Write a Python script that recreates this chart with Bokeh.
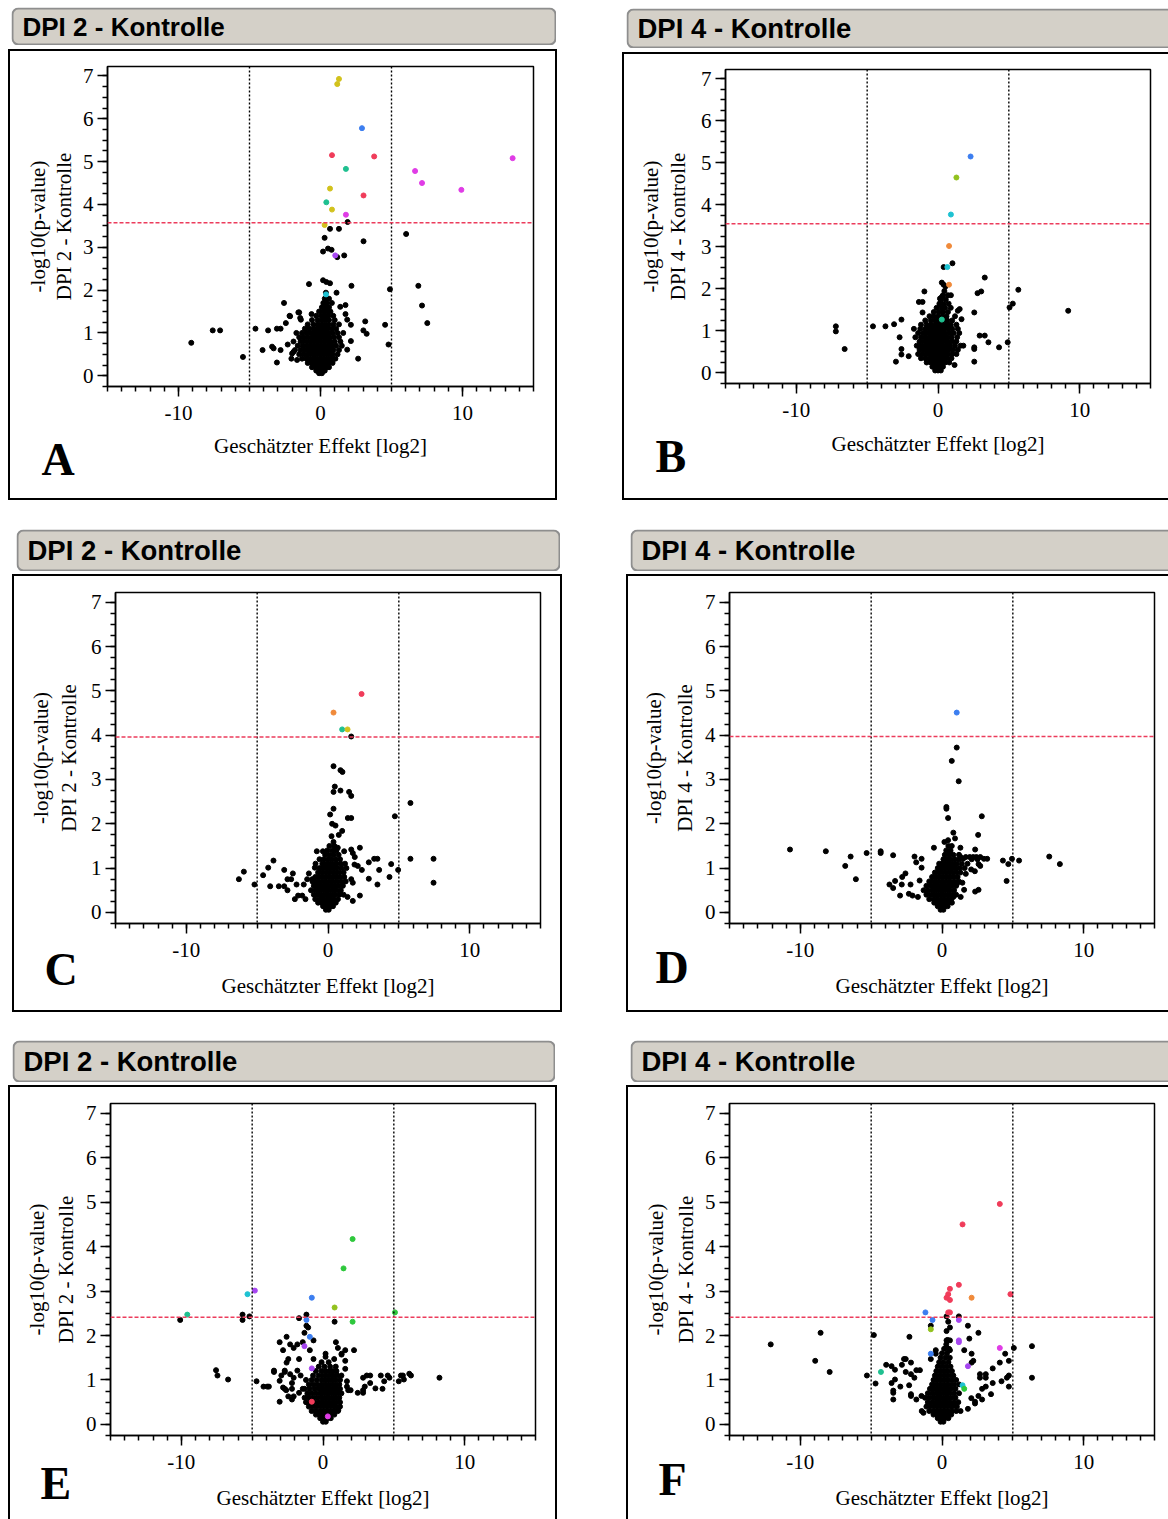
import math
from bokeh.plotting import figure
from bokeh.models import (Span, BoxAnnotation, SingleIntervalTicker, Range1d, Spacer,
                          PrintfTickFormatter)
from bokeh.layouts import column, row
from bokeh.core.properties import value
from bokeh.embed import file_html
from bokeh.resources import INLINE

# ---------------- DATA ----------------
PANEL_KEYS = ["A", "B", "C", "D", "E", "F"]
PANEL_TITLES = {"A": "DPI 2 - Kontrolle", "B": "DPI 4 - Kontrolle", "C": "DPI 2 - Kontrolle",
                "D": "DPI 4 - Kontrolle", "E": "DPI 2 - Kontrolle", "F": "DPI 4 - Kontrolle"}
THRESH = {"A": 3.57, "B": 3.55, "C": 3.96, "D": 3.97, "E": 2.41, "F": 2.41}
FC_LIMIT = [-5, 5]
X_LABEL = "Geschätzter Effekt [log2]"
Y_LABEL_TOP = "-log10(p-value)"

# dense central clouds: (y, [x values]) read row by row
A_CORE = [(0.06, [-0.1, 0.1]), (0.12, [-0.3, -0.1, 0.1, 0.3]),
          (0.2, [-0.6, -0.35, -0.1, 0.15, 0.4, 0.6]),
          (0.3, [-0.9, -0.65, -0.4, -0.15, 0.1, 0.35, 0.6, 0.85]),
          (0.4, [-1.3, -1.0, -0.75, -0.5, -0.25, 0.0, 0.25, 0.5, 0.75, 1.05]),
          (0.5, [-1.5, -1.2, -0.9, -0.65, -0.4, -0.15, 0.1, 0.35, 0.6, 0.85, 1.2]),
          (0.6, [-1.8, -1.4, -1.1, -0.85, -0.6, -0.35, -0.1, 0.15, 0.4, 0.65, 0.9, 1.3]),
          (0.7, [-1.6, -1.25, -0.95, -0.7, -0.45, -0.2, 0.05, 0.3, 0.55, 0.8, 1.1, 1.5]),
          (0.8, [-1.9, -1.4, -1.1, -0.8, -0.55, -0.3, -0.05, 0.2, 0.45, 0.7, 1.0, 1.4]),
          (0.9, [-1.5, -1.2, -0.9, -0.6, -0.35, -0.1, 0.15, 0.4, 0.65, 0.95, 1.3]),
          (1.0, [-1.7, -1.3, -1.0, -0.7, -0.45, -0.2, 0.05, 0.3, 0.55, 0.85, 1.2, 1.6]),
          (1.1, [-1.1, -0.8, -0.5, -0.25, 0.0, 0.25, 0.5, 0.8, 1.1]),
          (1.2, [-0.9, -0.5, -0.2, 0.05, 0.3, 0.55, 0.9, 1.3]),
          (1.3, [-0.6, -0.2, 0.1, 0.35, 0.6, 1.0]), (1.4, [-0.3, 0.05, 0.3, 0.55, 0.9]),
          (1.5, [-0.1, 0.2, 0.45, 0.7]), (1.6, [0.1, 0.35, 0.6]), (1.7, [0.2, 0.45, 0.8]),
          (1.8, [0.3, 0.6])]
B_CORE = [(0.06, [-0.2, 0.0, 0.2]), (0.15, [-0.4, -0.15, 0.1, 0.35]),
          (0.25, [-0.8, -0.5, -0.25, 0.0, 0.25, 0.5, 0.8]),
          (0.35, [-1.2, -0.9, -0.6, -0.35, -0.1, 0.15, 0.4, 0.65, 0.95]),
          (0.45, [-1.4, -1.1, -0.8, -0.55, -0.3, -0.05, 0.2, 0.45, 0.7, 1.0, 1.3]),
          (0.55, [-1.3, -1.0, -0.75, -0.5, -0.25, 0.0, 0.25, 0.5, 0.75, 1.05, 1.4]),
          (0.65, [-1.5, -1.2, -0.9, -0.65, -0.4, -0.15, 0.1, 0.35, 0.6, 0.85, 1.2, 1.6]),
          (0.75, [-1.3, -1.0, -0.75, -0.5, -0.25, 0.0, 0.25, 0.5, 0.75, 1.0, 1.3]),
          (0.85, [-1.6, -1.2, -0.9, -0.6, -0.35, -0.1, 0.15, 0.4, 0.65, 0.95, 1.35]),
          (0.95, [-1.4, -1.05, -0.75, -0.5, -0.25, 0.0, 0.25, 0.5, 0.8, 1.1, 1.5]),
          (1.05, [-1.7, -1.25, -0.9, -0.6, -0.35, -0.1, 0.15, 0.4, 0.7, 1.0, 1.4]),
          (1.15, [-1.2, -0.8, -0.5, -0.2, 0.05, 0.3, 0.6, 0.9, 1.3]),
          (1.25, [-0.9, -0.5, -0.2, 0.1, 0.35, 0.65, 1.0]),
          (1.35, [-0.6, -0.3, 0.0, 0.3, 0.6, 1.2]), (1.45, [-0.3, 0.05, 0.35, 0.7]),
          (1.55, [-0.1, 0.25, 0.5, 0.9]), (1.65, [0.1, 0.4, 0.75]), (1.75, [0.2, 0.55]),
          (1.85, [0.35, 0.7]), (1.95, [0.45])]
C_CORE = [(0.06, [-0.15, 0.05]), (0.14, [-0.35, -0.1, 0.15, 0.35]),
          (0.22, [-0.7, -0.45, -0.2, 0.05, 0.3, 0.55]),
          (0.3, [-0.9, -0.6, -0.35, -0.1, 0.15, 0.4, 0.7]),
          (0.4, [-1.0, -0.75, -0.5, -0.25, 0.0, 0.25, 0.5, 0.8, 1.1]),
          (0.5, [-1.2, -0.9, -0.65, -0.4, -0.15, 0.1, 0.35, 0.6, 0.9]),
          (0.6, [-1.0, -0.75, -0.5, -0.25, 0.0, 0.25, 0.5, 0.75, 1.05]),
          (0.7, [-1.1, -0.85, -0.6, -0.35, -0.1, 0.15, 0.4, 0.65, 0.95, 1.25]),
          (0.8, [-0.9, -0.65, -0.4, -0.15, 0.1, 0.35, 0.6, 0.85, 1.15]),
          (0.9, [-0.7, -0.45, -0.2, 0.05, 0.3, 0.55, 0.8, 1.1]),
          (1.0, [-0.6, -0.35, -0.1, 0.15, 0.4, 0.65, 0.95, 1.3]),
          (1.1, [-0.4, -0.15, 0.1, 0.35, 0.6, 0.9, 1.2]),
          (1.2, [-0.6, -0.3, 0.0, 0.25, 0.55, 0.85]), (1.3, [-0.2, 0.1, 0.4, 0.75]),
          (1.4, [-0.05, 0.3, 0.6]), (1.5, [0.1, 0.45])]
D_CORE = [(0.06, [-0.1, 0.1]), (0.14, [-0.3, -0.05, 0.2, 0.4]),
          (0.22, [-0.55, -0.3, -0.05, 0.2, 0.45, 0.7]),
          (0.3, [-0.9, -0.6, -0.35, -0.1, 0.15, 0.4, 0.65]),
          (0.4, [-1.1, -0.8, -0.55, -0.3, -0.05, 0.2, 0.45, 0.7, 1.0]),
          (0.5, [-1.3, -1.0, -0.7, -0.45, -0.2, 0.05, 0.3, 0.55, 0.85]),
          (0.6, [-1.1, -0.8, -0.55, -0.3, -0.05, 0.2, 0.45, 0.7, 1.0]),
          (0.7, [-0.9, -0.65, -0.4, -0.15, 0.1, 0.35, 0.6, 0.9, 1.2]),
          (0.8, [-0.7, -0.45, -0.2, 0.05, 0.3, 0.55, 0.8, 1.1]),
          (0.9, [-0.5, -0.25, 0.0, 0.25, 0.5, 0.75, 1.0, 1.3]),
          (1.0, [-0.3, -0.05, 0.2, 0.45, 0.7, 0.95, 1.25, 1.6]),
          (1.1, [-0.2, 0.05, 0.3, 0.55, 0.8, 1.05, 1.4, 1.8]),
          (1.2, [0.1, 0.35, 0.6, 0.9, 1.2, 2.1, 2.5]), (1.3, [0.2, 0.5, 0.8, 1.2]),
          (1.4, [0.3, 0.6]), (1.5, [0.45])]
E_CORE = [(0.06, [0.0, 0.2]), (0.14, [-0.2, 0.05, 0.3, 0.55]),
          (0.22, [-0.5, -0.25, 0.0, 0.25, 0.5, 0.8]),
          (0.3, [-0.8, -0.5, -0.2, 0.05, 0.3, 0.55, 0.8, 1.05]),
          (0.4, [-1.0, -0.7, -0.4, -0.1, 0.15, 0.4, 0.65, 0.9, 1.2]),
          (0.5, [-1.2, -0.9, -0.6, -0.3, -0.05, 0.2, 0.45, 0.7, 0.95, 1.2]),
          (0.6, [-1.3, -1.0, -0.7, -0.4, -0.1, 0.15, 0.4, 0.65, 0.9, 1.15]),
          (0.7, [-1.1, -0.8, -0.5, -0.2, 0.05, 0.3, 0.55, 0.8, 1.05, 1.3]),
          (0.8, [-1.3, -0.95, -0.6, -0.3, -0.05, 0.2, 0.45, 0.7, 0.95, 1.2]),
          (0.9, [-1.0, -0.7, -0.4, -0.1, 0.15, 0.4, 0.65, 0.9, 1.15]),
          (1.0, [-1.2, -0.8, -0.45, -0.1, 0.15, 0.4, 0.65, 0.9, 1.2]),
          (1.1, [-0.7, -0.3, 0.0, 0.25, 0.5, 0.75, 1.0, 1.3]),
          (1.2, [-0.5, -0.1, 0.2, 0.45, 0.7, 0.95]), (1.3, [-0.3, 0.1, 0.5, 0.9]),
          (1.4, [-0.1, 0.4])]
F_CORE = [(0.06, [-0.1, 0.1]), (0.14, [-0.3, -0.05, 0.2, 0.45]),
          (0.22, [-0.6, -0.35, -0.1, 0.15, 0.4, 0.65]),
          (0.3, [-0.9, -0.6, -0.35, -0.1, 0.15, 0.4, 0.7, 1.0]),
          (0.4, [-1.1, -0.8, -0.5, -0.25, 0.0, 0.25, 0.5, 0.75, 1.05]),
          (0.5, [-1.0, -0.7, -0.45, -0.2, 0.05, 0.3, 0.55, 0.85, 1.15]),
          (0.6, [-1.2, -0.9, -0.6, -0.35, -0.1, 0.15, 0.4, 0.65, 0.95]),
          (0.7, [-1.0, -0.7, -0.45, -0.2, 0.05, 0.3, 0.55, 0.85, 1.2]),
          (0.8, [-0.85, -0.6, -0.35, -0.1, 0.15, 0.4, 0.65, 0.95]),
          (0.9, [-0.7, -0.45, -0.2, 0.05, 0.3, 0.55, 0.85, 1.2]),
          (1.0, [-0.6, -0.35, -0.1, 0.15, 0.4, 0.7, 1.0]),
          (1.1, [-0.5, -0.25, 0.0, 0.25, 0.5, 0.8]), (1.2, [-0.4, -0.1, 0.15, 0.4, 0.7]),
          (1.3, [-0.3, 0.0, 0.3, 0.6]), (1.4, [-0.2, 0.1, 0.45]), (1.5, [-0.1, 0.25, 0.55]),
          (1.6, [0.0, 0.35]), (1.7, [0.15, 0.5]), (1.8, [0.3]), (1.9, [0.4])]

# scattered black points (x, y)
A_OUT = [(-9.1, 0.77), (-7.59, 1.06), (-7.07, 1.06), (-5.46, 0.44), (-4.58, 1.10), (-4.08, 0.60),
         (-3.69, 1.06), (-3.07, 1.10), (-2.81, 1.10), (-3.41, 0.68), (-3.30, 0.64), (-3.07, 0.31),
         (-2.81, 0.60), (-2.57, 1.70), (-2.44, 1.23), (-2.18, 1.40), (-2.31, 0.73), (-2.05, 0.40),
         (-1.56, 1.48), (-1.43, 1.35), (-0.81, 2.14), (4.89, 2.02), (4.79, 0.73), (4.55, 1.19),
         (3.15, 1.27), (3.25, 0.98), (3.02, 1.06), (2.65, 0.40), (2.18, 2.10), (6.89, 2.10),
         (7.15, 1.64), (7.52, 1.23), (1.91, 3.59), (0.67, 3.43), (1.30, 3.43), (6.03, 3.31),
         (0.29, 3.22), (3.03, 3.14), (0.53, 2.97), (0.18, 2.90), (0.78, 2.94), (1.18, 2.77),
         (1.67, 2.81), (0.18, 2.23), (0.41, 2.19), (0.67, 2.16), (-0.63, 1.44), (1.76, 1.65),
         (1.39, 1.61), (1.76, 1.44), (1.88, 1.31), (2.14, 1.19), (2.14, 0.81), (1.88, 0.61),
         (0.38, 1.94), (1.13, 1.94), (-2.0, 0.52), (-1.9, 0.56), (-1.65, 0.37), (-1.5, 1.48),
         (-1.38, 1.31), (-2.14, 1.39)]
B_OUT = [(0.40, 2.52), (1.02, 2.61), (3.30, 2.27), (3.05, 1.94), (2.79, 1.90), (5.67, 1.98),
         (5.28, 1.65), (5.05, 1.56), (9.19, 1.48), (2.56, 1.44), (2.94, 0.89), (3.30, 0.89),
         (3.56, 0.73), (4.31, 0.61), (4.92, 0.73), (2.56, 0.61), (2.56, 0.57), (2.56, 0.27),
         (1.79, 0.65), (1.17, 0.19), (-7.21, 1.11), (-7.21, 0.99), (-6.59, 0.57), (-4.59, 1.11),
         (-3.71, 1.11), (-3.10, 1.16), (-2.58, 1.27), (-2.71, 0.85), (-2.58, 0.57), (-2.58, 0.44),
         (-2.97, 0.27), (-2.07, 0.40), (-0.96, 1.94), (-1.35, 1.69), (-1.09, 1.69), (-1.09, 1.44),
         (0.40, 2.10), (0.53, 2.06), (0.14, 1.77), (0.27, 1.81), (0.91, 1.85), (1.40, 1.48),
         (1.53, 1.52), (1.66, 1.28), (0.27, 2.15)]
C_OUT = [(1.64, 3.97), (0.39, 3.30), (0.88, 3.21), (1.02, 3.17), (0.48, 2.84), (0.39, 2.72),
         (0.88, 2.75), (1.49, 2.72), (1.64, 2.63), (0.39, 2.34), (0.15, 2.21), (1.40, 2.13),
         (1.64, 2.13), (0.29, 2.0), (0.53, 1.96), (1.0, 1.84), (0.76, 1.75), (0.25, 1.72),
         (0.39, 1.59), (0.53, 1.46), (0.69, 1.46), (1.14, 1.38), (1.64, 1.42), (2.25, 1.46),
         (1.75, 1.34), (1.89, 1.25), (-0.79, 1.38), (-0.36, 1.38), (5.82, 2.47), (4.72, 2.17),
         (5.82, 1.21), (7.45, 1.21), (7.45, 0.67), (4.95, 0.96), (4.46, 1.09), (4.34, 0.80),
         (3.49, 0.63), (2.88, 0.76), (3.61, 0.96), (3.49, 1.21), (3.26, 1.21), (2.88, 1.13),
         (2.39, 0.96), (2.1, 1.05), (1.87, 1.08), (1.75, 0.67), (1.64, 0.75), (2.25, 0.38),
         (1.75, 0.26), (1.38, 0.35), (-6.29, 0.75), (-5.94, 0.92), (-5.19, 0.63), (-4.58, 0.84),
         (-4.22, 1.01), (-3.85, 1.17), (-4.08, 0.59), (-3.47, 0.59), (-3.09, 0.96), (-2.86, 0.75),
         (-2.6, 0.75), (-2.48, 0.88), (-2.22, 0.63), (-3.09, 0.59), (-2.86, 0.50), (-2.34, 0.30),
         (-2.11, 0.38), (-1.82, 0.38), (-1.59, 0.30), (-1.35, 0.88), (-1.47, 0.75), (-1.71, 0.63),
         (-1.12, 0.75), (-0.93, 1.01), (-0.88, 1.10)]
D_OUT = [(1.04, 3.72), (0.69, 3.42), (1.18, 2.96), (0.31, 2.38), (0.31, 2.34), (0.43, 2.13),
         (2.81, 2.17), (0.80, 1.80), (2.55, 1.75), (0.92, 1.67), (0.17, 1.59), (0.43, 1.63),
         (0.69, 1.50), (1.30, 1.46), (-0.57, 1.46), (2.34, 1.42), (-10.73, 1.42), (-8.20, 1.38),
         (-6.45, 1.26), (-6.83, 1.05), (-6.08, 0.75), (-5.32, 1.34), (-4.33, 1.38), (-4.33, 1.34),
         (-3.45, 1.29), (-1.94, 1.26), (-1.44, 1.21), (-1.82, 1.13), (-1.44, 1.01), (-2.58, 0.88),
         (-2.81, 0.80), (-3.31, 0.71), (-3.71, 0.63), (-3.45, 0.55), (-2.84, 0.63), (-2.22, 0.63),
         (-2.96, 0.38), (-2.34, 0.42), (-2.08, 0.38), (-1.70, 0.35), (-1.58, 0.72), (4.30, 1.17),
         (4.68, 1.09), (4.94, 1.21), (5.44, 1.17), (4.56, 0.71), (7.57, 1.26), (8.32, 1.09),
         (3.19, 1.21), (2.96, 1.21), (2.7, 1.25), (2.43, 1.25), (2.2, 1.25), (1.96, 1.25),
         (1.68, 1.25), (1.49, 1.21), (1.32, 1.25), (2.58, 1.09), (2.7, 1.05), (2.32, 0.93),
         (1.68, 0.87), (2.06, 0.97), (1.44, 0.67), (1.06, 0.65), (2.58, 0.51), (2.34, 0.47),
         (1.56, 0.51), (1.32, 0.35), (0.80, 0.35)]
E_OUT = [(0.82, 2.31), (-10.08, 2.35), (-5.68, 2.47), (-5.68, 2.35), (-5.19, 2.43), (-1.17, 2.47),
         (-1.69, 2.39), (-1.17, 2.22), (-1.05, 2.18), (-1.31, 2.06), (-0.67, 1.89), (-0.93, 1.67),
         (-3.06, 1.85), (-2.82, 1.67), (-2.57, 1.97), (-2.32, 1.80), (-2.07, 1.72), (-1.81, 1.80),
         (-1.43, 1.85), (0.91, 1.85), (1.05, 1.72), (1.57, 1.67), (2.19, 1.67), (1.31, 1.59),
         (0.79, 1.47), (1.31, 1.57), (1.57, 1.43), (0.18, 1.59), (0.18, 1.52), (-0.67, 1.47),
         (-1.69, 1.47), (-2.57, 1.39), (-2.45, 1.47), (-3.46, 1.21), (-3.46, 1.18), (-2.94, 1.10),
         (-3.06, 0.98), (-2.70, 1.21), (-2.70, 1.18), (-2.32, 1.13), (-2.07, 1.05), (-1.81, 1.21),
         (-1.58, 1.10), (-2.19, 0.93), (-2.70, 0.80), (-2.60, 0.77), (-2.82, 0.83), (-2.19, 0.80),
         (-2.07, 0.63), (-2.45, 0.63), (-2.19, 0.56), (-3.06, 0.51), (-1.69, 0.71), (-1.43, 0.80),
         (-4.69, 0.97), (-4.20, 0.85), (-3.94, 0.85), (-3.82, 0.85), (-7.55, 1.22), (-7.45, 1.10),
         (-6.70, 1.01), (2.83, 1.05), (3.09, 1.10), (3.33, 1.10), (4.08, 1.10), (4.57, 1.10),
         (4.69, 1.05), (5.35, 0.97), (5.71, 1.01), (5.50, 1.10), (5.64, 1.10), (6.09, 1.14),
         (6.21, 1.10), (8.22, 1.05), (2.45, 0.71), (2.83, 0.71), (2.83, 0.77), (2.95, 0.85),
         (3.33, 0.93), (3.70, 0.81), (4.20, 0.80), (4.32, 0.97), (1.78, 0.77), (1.95, 0.77),
         (1.69, 0.85), (1.69, 0.97), (1.57, 1.25), (1.08, 0.32)]
F_OUT = [(0.32, 2.43), (1.19, 2.43), (-0.79, 2.22), (1.83, 2.22), (0.44, 2.31), (0.56, 2.18),
         (0.32, 2.10), (2.57, 2.06), (-4.81, 2.01), (-2.30, 1.97), (0.32, 1.89), (0.56, 1.89),
         (1.93, 1.93), (0.32, 1.72), (0.56, 1.67), (1.57, 1.67), (-0.44, 1.67), (-0.44, 1.59),
         (-0.79, 1.47), (2.09, 1.59), (5.07, 1.72), (6.35, 1.76), (4.46, 1.59), (4.72, 1.43),
         (4.08, 1.39), (3.58, 1.26), (2.21, 1.43), (2.09, 1.39), (4.72, 1.10), (4.58, 1.05),
         (4.20, 0.97), (4.72, 0.85), (6.35, 1.05), (3.09, 1.13), (3.09, 1.05), (2.68, 1.13),
         (2.68, 1.05), (3.58, 0.93), (3.09, 0.85), (2.83, 0.80), (3.46, 0.68), (2.83, 0.56),
         (2.57, 0.64), (2.33, 0.51), (2.33, 0.47), (2.07, 0.59), (1.83, 0.35), (1.31, 0.30),
         (-12.09, 1.80), (-8.57, 2.06), (-8.95, 1.43), (-7.93, 1.18), (-5.30, 1.10), (-4.69, 0.92),
         (-3.94, 1.34), (-3.56, 1.31), (-3.32, 1.23), (-2.83, 1.34), (-2.68, 1.47), (-2.56, 1.47),
         (-2.19, 1.39), (-2.56, 1.18), (-2.19, 1.13), (-1.95, 1.05), (-3.56, 0.93), (-3.32, 1.01),
         (-2.94, 0.85), (-3.44, 0.76), (-3.44, 0.71), (-3.44, 0.56), (-2.32, 0.88), (-2.19, 0.64),
         (-2.19, 0.68), (-1.81, 0.56), (-1.45, 0.64), (-1.43, 0.30), (-1.31, 0.26), (-1.81, 1.22),
         (-1.56, 1.22)]

# highlighted (coloured) points: (x, y, group)
A_HI = [(1.30, 6.93, "yellow"), (1.18, 6.81, "yellow"), (0.67, 4.37, "yellow"), (0.81, 3.88, "yellow"),
        (0.29, 3.52, "yellow"), (2.92, 5.78, "blue"), (0.81, 5.15, "red"), (3.78, 5.12, "red"),
        (3.03, 4.21, "red"), (1.79, 4.83, "teal"), (0.41, 4.05, "teal"), (6.66, 4.78, "magenta"),
        (13.53, 5.08, "magenta"), (7.15, 4.50, "magenta"), (9.92, 4.34, "magenta"),
        (1.79, 3.76, "magenta"), (1.04, 2.81, "purple"), (0.39, 1.90, "cyan")]
B_HI = [(2.30, 5.15, "blue"), (1.30, 4.65, "lime"), (0.91, 3.77, "cyan"), (0.78, 3.02, "orange"),
        (0.66, 2.52, "cyan"), (0.78, 2.10, "orange"), (0.27, 1.27, "teal")]
C_HI = [(2.37, 4.93, "red"), (0.39, 4.51, "orange"), (1.0, 4.13, "teal"), (1.38, 4.13, "yellow")]
D_HI = [(1.04, 4.51, "blue")]
E_HI = [(2.09, 4.17, "green"), (1.45, 3.51, "green"), (5.08, 2.52, "green"), (2.09, 2.31, "green"),
        (-0.79, 2.85, "blue"), (-1.17, 2.35, "blue"), (-0.93, 1.97, "blue"), (0.82, 2.63, "lime"),
        (-5.33, 2.93, "cyan"), (-4.81, 3.01, "purple"), (-1.31, 1.76, "purple"),
        (-0.79, 1.26, "purple"), (-9.58, 2.47, "teal"), (-0.79, 0.51, "red"), (0.34, 0.18, "magenta")]
F_HI = [(4.08, 4.96, "red"), (1.45, 4.50, "red"), (1.19, 3.14, "red"), (0.56, 3.05, "red"),
        (0.44, 2.93, "red"), (0.32, 2.85, "red"), (0.56, 2.80, "red"), (4.83, 2.93, "red"),
        (0.44, 2.52, "red"), (0.56, 2.52, "red"), (2.09, 2.85, "orange"), (-1.17, 2.52, "blue"),
        (-0.67, 2.35, "blue"), (-0.79, 1.59, "blue"), (1.19, 2.35, "purple"), (1.19, 1.89, "purple"),
        (1.19, 1.85, "purple"), (1.83, 1.31, "purple"), (-0.79, 2.14, "lime"), (4.08, 1.72, "magenta"),
        (-4.31, 1.18, "teal"), (1.45, 0.88, "cyan"), (1.57, 0.80, "green")]

CORES = {"A": A_CORE, "B": B_CORE, "C": C_CORE, "D": D_CORE, "E": E_CORE, "F": F_CORE}
OUTS = {"A": A_OUT, "B": B_OUT, "C": C_OUT, "D": D_OUT, "E": E_OUT, "F": F_OUT}
HIS = {"A": A_HI, "B": B_HI, "C": C_HI, "D": D_HI, "E": E_HI, "F": F_HI}

# ---------------- STYLE / LAYOUT ----------------
GROUP_COLORS = {"yellow": "#d2c21c", "blue": "#3c7ef0", "red": "#f03c5a", "teal": "#1fc090",
                "magenta": "#e03ce6", "purple": "#a646f0", "cyan": "#1ec2d2", "orange": "#f08a3a",
                "green": "#2ec83c", "lime": "#92c21e"}
SERIF = "Liberation Serif"
SANS = "Liberation Sans"

# page-pixel geometry of every panel (letter = x of left edge, y of glyph centre)
GEOM = {
    "A": dict(cell=(0, 0, 590, 514), title=(11, 556, 7, 45), tsize="26px", inner=(10, 555, 51, 498),
              frame=(107, 533, 66, 386), split=78, ylab=(37, 63), letter=(41, 459), xstand=11),
    "B": dict(cell=(590, 0, 578, 514), title=(626, 1168, 8, 48), tsize="27.5px", inner=(624, 1168, 54, 498),
              frame=(725, 1150, 69, 383), split=695, ylab=(650, 677), letter=(655, 456), xstand=12),
    "C": dict(cell=(0, 514, 590, 512), title=(16, 560, 529, 571), tsize="27.5px", inner=(14, 560, 576, 1010),
              frame=(115, 540, 592, 923), split=82, ylab=(40, 68), letter=(44, 969), xstand=14),
    "D": dict(cell=(590, 514, 578, 512), title=(630, 1168, 529, 571), tsize="27.5px", inner=(628, 1168, 576, 1010),
              frame=(729, 1154, 592, 923), split=700, ylab=(653, 684), letter=(655, 967), xstand=14),
    "E": dict(cell=(0, 1026, 590, 493), title=(12, 555, 1040, 1082), tsize="27.5px", inner=(10, 555, 1087, 1519),
              frame=(110, 535, 1103, 1435), split=80, ylab=(36, 65), letter=(40, 1483), xstand=14),
    "F": dict(cell=(590, 1026, 578, 493), title=(630, 1168, 1040, 1082), tsize="27.5px", inner=(628, 1168, 1087, 1519),
              frame=(729, 1154, 1103, 1435), split=700, ylab=(655, 685), letter=(658, 1479), xstand=14),
}


def plain_fig(x0, x1, y0, y1):
    """figure whose frame fills its canvas; data coords = page pixels (y negated)."""
    p = figure(width=x1 - x0, height=y1 - y0, x_range=Range1d(x0, x1), y_range=Range1d(-y1, -y0),
               min_border=0, x_axis_type=None, y_axis_type=None, toolbar_location=None,
               output_backend="svg", background_fill_color="white", border_fill_color="white",
               frame_align=False)
    p.outline_line_color = None
    return p


def title_fig(key):
    g = GEOM[key]
    cx, cy, cw, ch = g["cell"]
    tl, tr, tt, tb = g["title"]
    cut = tr >= cx + cw
    p = plain_fig(tl, tr, tt, tb)
    p.add_layout(BoxAnnotation(left=tl + 1, right=(tr + 20 if cut else tr - 1), top=-(tt + 1),
                               bottom=-(tb - 1), fill_color="#d4d0c8", fill_alpha=1.0,
                               line_color="#8e8e8e", line_alpha=1.0, line_width=2, border_radius=6,
                               level="underlay"))
    p.text(x=[tl + 11], y=[-(tt + tb) / 2], text=[PANEL_TITLES[key]], text_font=value(SANS),
           text_font_style="bold", text_font_size=g["tsize"], text_color="black",
           text_baseline="middle", text_align="left")
    return p


def left_fig(key):
    g = GEOM[key]
    il, ir, it, ib = g["inner"]
    fl, fr, ft, fb = g["frame"]
    p = plain_fig(il, g["split"], it, ib)
    yc = (ft + fb) / 2
    p.text(x=list(g["ylab"]), y=[-yc, -yc], text=[Y_LABEL_TOP, PANEL_TITLES[key]],
           angle=math.pi / 2, text_font=value(SERIF), text_font_size="21px", text_color="black",
           text_align="center", text_baseline="middle")
    p.text(x=[g["letter"][0]], y=[-g["letter"][1]], text=[key], text_font=value(SERIF),
           text_font_style="bold", text_font_size="46px", text_color="black",
           text_align="left", text_baseline="middle")
    return p


def main_fig(key):
    g = GEOM[key]
    il, ir, it, ib = g["inner"]
    fl, fr, ft, fb = g["frame"]
    sp = g["split"]
    p = figure(width=ir - sp, height=ib - it, min_border_left=fl - sp, min_border_right=ir - fr,
               min_border_top=ft - it, min_border_bottom=ib - fb, x_range=Range1d(-15, 15),
               y_range=Range1d(-0.25, 7.22), output_backend="svg", toolbar_location=None,
               background_fill_color="white", border_fill_color="white", frame_align=False)
    p.xgrid.visible = False
    p.ygrid.visible = False
    p.outline_line_color = "black"
    p.outline_line_width = 1.5
    p.outline_line_alpha = 1.0

    p.xaxis.ticker = SingleIntervalTicker(interval=10, num_minor_ticks=10)
    p.yaxis.ticker = SingleIntervalTicker(interval=1, num_minor_ticks=4)
    p.xaxis.formatter = PrintfTickFormatter(format="%d")
    p.yaxis.formatter = PrintfTickFormatter(format="%d")
    p.xaxis.axis_label = X_LABEL
    for ax in (p.xaxis[0], p.yaxis[0]):
        ax.axis_line_color = "black"
        ax.axis_line_width = 1.5
        ax.major_tick_line_color = "black"
        ax.major_tick_line_width = 1.5
        ax.minor_tick_line_color = "black"
        ax.minor_tick_line_width = 1.5
        ax.major_tick_in = 0
        ax.minor_tick_in = 0
        ax.major_tick_out = 10
        ax.minor_tick_out = 5
        ax.major_label_text_font = SERIF
        ax.major_label_text_font_size = "21px"
        ax.major_label_text_color = "black"
        ax.axis_label_text_font = SERIF
        ax.axis_label_text_font_size = "21px"
        ax.axis_label_text_font_style = "normal"
        ax.axis_label_text_color = "black"
    p.xaxis.major_label_standoff = 9
    p.yaxis.major_label_standoff = 4
    p.xaxis.axis_label_standoff = g["xstand"]

    xs, ys = [], []
    for yv, row_x in CORES[key]:
        for xv in row_x:
            xs.append(xv)
            ys.append(yv)
    for xv, yv in OUTS[key]:
        xs.append(xv)
        ys.append(yv)
    p.scatter(xs, ys, size=5, fill_color="black", line_color="black")

    hx = [h[0] for h in HIS[key]]
    hy = [h[1] for h in HIS[key]]
    hc = [GROUP_COLORS[h[2]] for h in HIS[key]]
    p.scatter(hx, hy, size=5, fill_color=hc, line_color=hc)

    for loc in FC_LIMIT:
        p.add_layout(Span(location=loc, dimension="height", line_color="black",
                          line_dash="2 2", line_width=1.4))
    p.add_layout(Span(location=THRESH[key], dimension="width", line_color="#ec3c5c",
                      line_dash="4 2", line_width=1.5))
    return p


def cell(key):
    g = GEOM[key]
    cx, cy, cw, ch = g["cell"]
    tl, tr, tt, tb = g["title"]
    il, ir, it, ib = g["inner"]
    items = [Spacer(width=cw, height=tt - cy)]
    trow = [Spacer(width=tl - cx, height=tb - tt), title_fig(key)]
    if cx + cw - tr > 0:
        trow.append(Spacer(width=cx + cw - tr, height=tb - tt))
    items.append(row(*trow, spacing=0))
    items.append(Spacer(width=cw, height=it - tb))
    box = row(left_fig(key), main_fig(key), spacing=0,
              styles={"box-shadow": "0 0 0 2px black"})
    brow = [Spacer(width=il - cx, height=ib - it), box]
    if cx + cw - ir > 0:
        brow.append(Spacer(width=cx + cw - ir, height=ib - it))
    items.append(row(*brow, spacing=0))
    if cy + ch - ib > 0:
        items.append(Spacer(width=cw, height=cy + ch - ib))
    return column(*items, spacing=0)


layout = column(row(cell("A"), cell("B"), spacing=0),
                row(cell("C"), cell("D"), spacing=0),
                row(cell("E"), cell("F"), spacing=0), spacing=0)

open("out.html", "w").write(file_html(layout, INLINE))
